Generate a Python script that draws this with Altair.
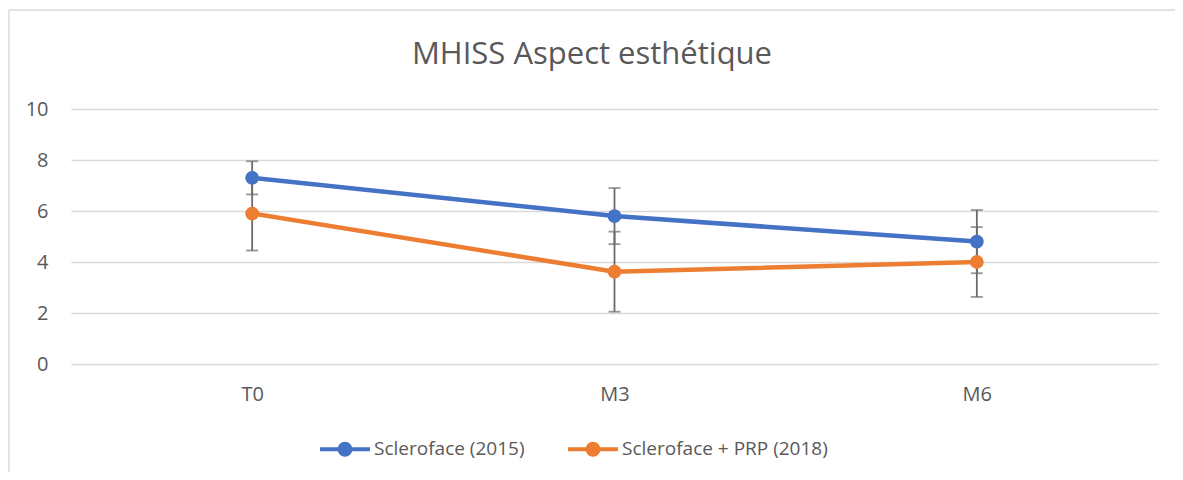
import altair as alt
import pandas as pd

periods = ["T0", "M3", "M6"]
series_names = ["Scleroface (2015)", "Scleroface + PRP (2018)"]
means_2015 = [7.3, 5.8, 4.8]
err_2015 = [0.65, 1.1, 1.24]
means_2018 = [5.9, 3.62, 4.0]
err_2018 = [1.45, 1.57, 1.37]
series_colors = ["#4472C4", "#ED7D31"]
y_ticks = [0, 2, 4, 6, 8, 10]
title_text = "MHISS Aspect esthétique"

TEXT = "#595959"
GRID = "#d9d9d9"
FONT = "Open Sans"

rows = []
for name, means, errs in zip(series_names, [means_2015, means_2018], [err_2015, err_2018]):
    for p, m, e in zip(periods, means, errs):
        rows.append({"periode": p, "serie": name, "moyenne": m, "bas": m - e, "haut": m + e})
df = pd.DataFrame(rows)

W, H = 1087, 255

x_enc = alt.X(
    "periode:N",
    sort=periods,
    scale=alt.Scale(type="point", padding=0.5),
    axis=alt.Axis(title=None, labelAngle=0, domain=False, ticks=False, tickSize=0,
                  labelPadding=20, labelFontSize=20, labelFont=FONT, labelColor=TEXT,
                  grid=False),
)
y_scale = alt.Scale(domain=[0, 10], nice=False, zero=True)
y_axis = alt.Axis(title=None, values=y_ticks, domain=False, ticks=False, tickSize=0,
                  labelPadding=23, labelFontSize=20, labelFont=FONT, labelColor=TEXT,
                  grid=True, gridColor=GRID, gridWidth=1.5)
color_scale = alt.Scale(domain=series_names, range=series_colors)

base = alt.Chart(df)

err_rule = base.mark_rule(color="#6b6b6b", strokeWidth=1.8).encode(
    x=x_enc, y=alt.Y("bas:Q", scale=y_scale, axis=y_axis), y2="haut:Q"
)
err_lo = base.mark_tick(color="#6b6b6b", thickness=1.8, size=12).encode(
    x=x_enc, y=alt.Y("bas:Q", scale=y_scale)
)
err_hi = base.mark_tick(color="#6b6b6b", thickness=1.8, size=12).encode(
    x=x_enc, y=alt.Y("haut:Q", scale=y_scale)
)

r1, r2, r3 = 0.22, 0.12, 0.02
def circ(r):
    return f"M{r},0A{r},{r},0,1,1,{-r},0A{r},{r},0,1,1,{r},0"
legend_symbol = "M-1,0L1,0" + circ(r1) + circ(r2) + circ(r3)

lines = base.mark_line(strokeWidth=4.5).encode(
    x=x_enc,
    y=alt.Y("moyenne:Q", scale=y_scale),
    color=alt.Color(
        "serie:N", scale=color_scale, sort=series_names,
        legend=alt.Legend(
            title=None, orient="none", direction="horizontal",
            legendX=247, legendY=313,
            symbolType=legend_symbol, symbolSize=2500, symbolStrokeWidth=4,
            labelFontSize=19, labelFont=FONT, labelColor=TEXT, labelOffset=2,
            columnPadding=35, labelLimit=400,
        ),
    ),
    detail="serie:N",
)
points = base.mark_point(filled=True, size=190, opacity=1, strokeWidth=0).encode(
    x=x_enc,
    y=alt.Y("moyenne:Q", scale=y_scale),
    fill=alt.Fill("serie:N", scale=color_scale, legend=None),
)

title_df = pd.DataFrame({"t": [title_text]})
title = alt.Chart(title_df).mark_text(
    font=FONT, fontSize=31, color=TEXT, align="center", baseline="alphabetic"
).encode(text="t:N", x=alt.value(521), y=alt.value(-45))

frame_df = pd.DataFrame({"f": [0]})
frame_top = alt.Chart(frame_df).mark_rule(color=GRID, strokeWidth=1.5).encode(
    x=alt.value(-62), x2=alt.value(1104), y=alt.value(-99)
)
frame_left = alt.Chart(frame_df).mark_rule(color=GRID, strokeWidth=1.5).encode(
    x=alt.value(-62), y=alt.value(-99), y2=alt.value(363)
)

chart = alt.layer(frame_top, frame_left, err_rule, err_lo, err_hi, lines, points, title).properties(
    width=W, height=H,
    background="white",
    autosize=alt.AutoSizeParams(type="none"),
    padding={"left": 63, "top": 101, "right": 17, "bottom": 108},
).configure_view(strokeWidth=0, stroke="transparent")

chart.save("out.html", embed_options={"renderer": "svg", "actions": False})
